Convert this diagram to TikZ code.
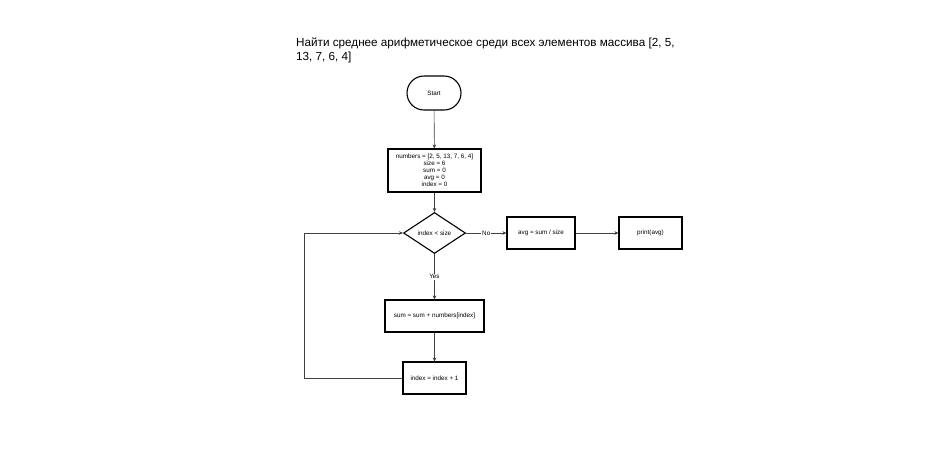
\documentclass[tikz,border=0pt]{standalone}
\usepackage{fontspec}
\setmainfont{Liberation Sans}
\usetikzlibrary{arrows.meta}
\usetikzlibrary{shapes}

\begin{document}
\begin{tikzpicture}[x=1pt, y=-1pt, font=\fontsize{6.3}{7}\selectfont,
        terminal_style/.style={draw=black, line width=1.1pt, rounded corners=17pt, minimum width=54pt, minimum height=34pt, inner sep=0pt},
        process_style/.style={draw=black, line width=1.1pt, align=center, inner sep=0pt},
        decision_style/.style={diamond, draw=black, line width=1.1pt, aspect=1.5, minimum width=62pt, minimum height=41pt, inner sep=0pt},
        label_style/.style={fill=white, inner sep=1pt},
        edge_style/.style={draw=black!75, line width=0.6pt, -{Stealth[length=4pt, width=3.5pt]}}]

        \useasboundingbox (0,0) rectangle (950,475);

        \node [anchor=north west, align=left, inner sep=0pt, font=\fontsize{11.7}{14}\selectfont](title) at (296,38) {Найти среднее арифметическое среди всех элементов массива [2, 5,\\13, 7, 6, 4]};

        \node [terminal_style](n1) at (434,93) {Start};
        \node [process_style, minimum width=93pt, minimum height=43pt](n2) at (434.5,170.5) {numbers = [2, 5, 13, 7, 6, 4]\\size = 6\\sum = 0\\avg = 0\\index = 0};
        \node [decision_style](n3) at (434.5,233) {index < size};
        \node [process_style, minimum width=68pt, minimum height=32pt](n4) at (541,233) {avg = sum / size};
        \node [process_style, minimum width=63pt, minimum height=32pt](n5) at (650.5,233) {print(avg)};
        \node [process_style, minimum width=99pt, minimum height=32pt](n6) at (434.5,316) {sum = sum + numbers[index]};
        \node [process_style, minimum width=63pt, minimum height=32pt](n7) at (434.5,378) {index = index + 1};
        \coordinate (c1) at (304,378);

        \draw [edge_style] (n1) edge (n2);
        \draw [edge_style] (n2) edge (n3);
        \draw [edge_style] (n3) edge node[label_style]{No} (n4);
        \draw [edge_style] (n4) edge (n5);
        \draw [edge_style] (n3) edge node[label_style]{Yes} (n6);
        \draw [edge_style] (n6) edge (n7);
        \draw [edge_style] (n7.west) -- (c1) |- (n3.west);
        \end{tikzpicture}
\end{document}
